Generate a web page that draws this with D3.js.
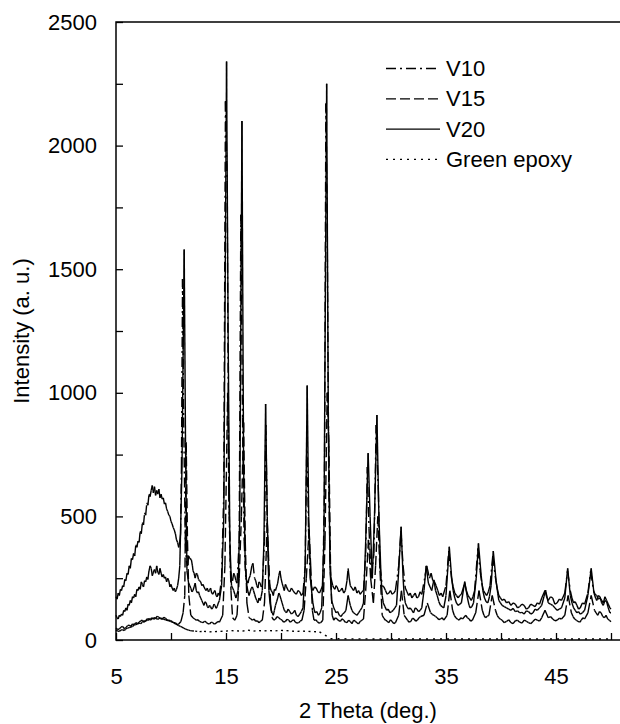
<!DOCTYPE html>
<html>
<head>
<meta charset="utf-8">
<script src="https://cdn.jsdelivr.net/npm/d3@7"></script>
<style>
body { margin: 0; background: #fff; }
text { font-family: "Liberation Sans", Arial, sans-serif; font-size: 22px; fill: #000; }
</style>
</head>
<body>
<div id="chart"></div>
<script>
// values, [2 theta, intensity]
var v10 = [[5.0,175],[5.1,165],[5.2,190],[5.3,180],[5.4,205],[5.5,200],[5.6,220],[5.7,215],[5.8,245],[5.9,240],[6.0,270],[6.1,265],[6.2,300],[6.3,290],[6.4,330],[6.5,325],[6.6,350],[6.7,340],[6.8,385],[6.9,375],[7.0,400],[7.1,395],[7.2,440],[7.3,430],[7.4,475],[7.5,465],[7.6,515],[7.7,505],[7.8,555],[7.9,545],[8.0,590],[8.1,580],[8.2,605],[8.3,625],[8.4,595],[8.5,620],[8.6,585],[8.7,605],[8.8,590],[8.9,610],[9.0,575],[9.1,590],[9.2,570],[9.3,575],[9.4,550],[9.5,555],[9.6,530],[9.7,520],[9.8,505],[9.9,500],[10.0,480],[10.1,470],[10.2,455],[10.3,445],[10.4,430],[10.5,405],[10.6,395],[10.7,375],[10.8,400],[10.87,430],[10.95,700],[11.05,1460],[11.15,900],[11.3,400],[11.4,320],[11.5,300],[11.6,340],[11.7,330],[11.85,325],[11.95,300],[12.0,280],[12.1,270],[12.2,250],[12.3,270],[12.4,265],[12.5,245],[12.6,240],[12.7,235],[12.8,220],[12.9,225],[13.0,215],[13.1,205],[13.2,200],[13.3,210],[13.4,195],[13.5,200],[13.6,210],[13.7,190],[13.8,185],[13.9,195],[14.0,200],[14.1,180],[14.2,175],[14.3,190],[14.4,180],[14.6,250],[14.8,600],[14.95,2180],[15.1,1850],[15.25,600],[15.4,280],[15.5,250],[15.6,240],[15.7,270],[15.8,260],[15.9,240],[16.0,230],[16.2,400],[16.35,1720],[16.5,900],[16.65,400],[16.8,250],[16.9,240],[17.0,230],[17.1,250],[17.2,260],[17.35,300],[17.45,310],[17.6,250],[17.7,240],[17.8,220],[17.9,210],[18.0,235],[18.1,230],[18.2,215],[18.3,220],[18.5,400],[18.62,870],[18.75,480],[18.9,240],[19.0,215],[19.1,200],[19.2,195],[19.3,180],[19.4,205],[19.5,200],[19.6,215],[19.7,230],[19.8,260],[19.9,280],[20.0,250],[20.1,230],[20.2,215],[20.3,200],[20.4,225],[20.5,215],[20.65,200],[20.8,195],[20.95,210],[21.1,200],[21.25,190],[21.4,185],[21.55,200],[21.7,195],[21.85,180],[22.0,190],[22.2,300],[22.35,820],[22.5,450],[22.65,250],[22.8,210],[22.9,200],[23.05,215],[23.2,210],[23.35,195],[23.5,190],[23.65,205],[23.8,220],[23.95,600],[24.08,2170],[24.2,1650],[24.35,600],[24.5,260],[24.7,220],[24.8,210],[24.9,205],[25.0,220],[25.1,215],[25.25,195],[25.4,200],[25.55,210],[25.7,190],[25.85,200],[26.0,240],[26.1,290],[26.2,250],[26.3,220],[26.45,210],[26.6,200],[26.75,215],[26.9,190],[27.05,200],[27.2,185],[27.35,195],[27.5,200],[27.7,350],[27.85,700],[28.0,450],[28.2,250],[28.45,350],[28.65,870],[28.85,600],[29.0,300],[29.2,220],[29.35,215],[29.5,200],[29.65,185],[29.8,190],[29.95,200],[30.1,185],[30.25,190],[30.4,200],[30.7,300],[30.9,440],[31.1,300],[31.3,210],[31.45,195],[31.6,180],[31.75,190],[31.9,170],[32.05,180],[32.2,190],[32.35,170],[32.5,175],[32.65,195],[32.8,185],[33.1,260],[33.25,300],[33.5,250],[33.65,270],[33.8,240],[33.95,235],[34.1,220],[34.25,200],[34.4,180],[34.55,190],[34.7,175],[35.0,220],[35.25,360],[35.5,250],[35.65,215],[35.8,190],[35.95,180],[36.1,170],[36.25,180],[36.4,185],[36.7,230],[36.85,200],[37.0,180],[37.15,170],[37.3,160],[37.45,175],[37.6,200],[37.9,370],[38.1,280],[38.25,230],[38.4,200],[38.55,190],[38.7,180],[38.85,195],[39.0,220],[39.25,340],[39.5,250],[39.65,210],[39.8,180],[39.95,170],[40.1,160],[40.3,165],[40.5,150],[40.7,155],[40.9,140],[41.1,150],[41.3,145],[41.5,130],[41.7,135],[41.9,145],[42.1,140],[42.3,125],[42.5,130],[42.7,145],[42.9,140],[43.1,135],[43.3,150],[43.5,145],[43.7,170],[44.0,200],[44.15,175],[44.3,160],[44.5,175],[44.7,170],[44.9,145],[45.1,150],[45.3,165],[45.5,160],[45.8,190],[46.05,280],[46.3,200],[46.45,170],[46.6,150],[46.75,155],[46.9,140],[47.05,125],[47.2,130],[47.4,150],[47.6,145],[47.9,190],[48.15,280],[48.4,200],[48.55,185],[48.7,180],[48.85,165],[49.0,170],[49.15,160],[49.3,150],[49.45,175],[49.6,160],[49.75,145],[49.9,130],[50.0,125]];

var v15 = [[5.0,48],[5.15,42],[5.3,45],[5.45,52],[5.6,55],[5.75,46],[5.9,50],[6.05,58],[6.2,60],[6.35,55],[6.5,65],[6.65,62],[6.8,70],[6.95,66],[7.1,72],[7.25,78],[7.4,80],[7.55,72],[7.7,78],[7.85,86],[8.0,85],[8.15,80],[8.3,90],[8.45,84],[8.6,88],[8.75,96],[8.9,92],[9.05,86],[9.2,85],[9.35,92],[9.5,88],[9.65,80],[9.8,80],[9.95,78],[10.1,75],[10.25,70],[10.4,70],[10.55,62],[10.7,65],[10.9,75],[11.1,110],[11.25,180],[11.38,800],[11.5,400],[11.62,180],[11.8,100],[12.0,90],[12.15,85],[12.3,80],[12.45,82],[12.6,75],[12.75,72],[12.9,70],[13.05,76],[13.2,72],[13.35,66],[13.5,65],[13.65,72],[13.8,70],[13.95,64],[14.1,68],[14.25,75],[14.4,72],[14.7,100],[14.9,300],[15.15,1000],[15.3,500],[15.45,200],[15.6,90],[15.8,80],[16.0,100],[16.2,250],[16.4,500],[16.6,880],[16.75,400],[16.9,150],[17.1,90],[17.25,86],[17.4,80],[17.55,85],[17.7,75],[17.85,78],[18.0,70],[18.15,76],[18.3,80],[18.5,150],[18.75,473],[18.9,300],[19.05,150],[19.2,90],[19.35,80],[19.5,85],[19.65,95],[19.8,90],[19.95,84],[20.1,80],[20.25,72],[20.4,75],[20.55,84],[20.7,80],[20.85,72],[21.0,78],[21.15,82],[21.3,72],[21.45,68],[21.6,70],[21.75,76],[21.9,80],[22.1,120],[22.3,250],[22.55,445],[22.7,300],[22.85,120],[23.0,80],[23.15,82],[23.3,75],[23.45,68],[23.6,70],[23.8,80],[24.0,400],[24.2,1000],[24.35,800],[24.5,300],[24.65,100],[24.8,80],[24.95,90],[25.1,85],[25.25,78],[25.4,75],[25.55,86],[25.7,80],[25.85,72],[26.0,70],[26.15,80],[26.3,75],[26.45,66],[26.6,80],[26.75,76],[26.9,70],[27.05,65],[27.2,75],[27.35,80],[27.5,85],[27.7,200],[27.95,405],[28.15,250],[28.4,150],[28.6,300],[28.8,500],[29.0,280],[29.2,100],[29.35,88],[29.5,80],[29.65,76],[29.8,70],[29.95,82],[30.1,75],[30.25,66],[30.4,70],[30.7,100],[30.95,200],[31.2,100],[31.35,90],[31.5,80],[31.65,72],[31.8,75],[31.95,88],[32.1,85],[32.25,76],[32.4,80],[32.55,90],[32.7,95],[33.0,100],[33.3,150],[33.6,110],[33.75,104],[33.9,100],[34.05,95],[34.2,90],[34.35,82],[34.5,85],[34.65,90],[34.8,80],[35.1,100],[35.35,200],[35.6,120],[35.75,100],[35.9,90],[36.05,84],[36.2,80],[36.35,90],[36.5,85],[36.8,100],[36.95,90],[37.1,85],[37.25,76],[37.4,80],[37.7,110],[38.0,200],[38.3,120],[38.45,100],[38.6,90],[38.75,96],[38.9,100],[39.2,180],[39.5,120],[39.65,100],[39.8,90],[39.95,84],[40.1,80],[40.3,70],[40.5,75],[40.7,82],[40.9,70],[41.1,66],[41.3,78],[41.5,80],[41.7,72],[41.9,68],[42.1,80],[42.3,76],[42.5,70],[42.7,66],[42.9,75],[43.1,84],[43.3,80],[43.5,76],[43.7,90],[44.0,120],[44.3,90],[44.5,95],[44.7,85],[44.9,78],[45.1,80],[45.3,88],[45.5,85],[45.8,100],[46.1,180],[46.4,110],[46.55,95],[46.7,85],[46.85,80],[47.0,75],[47.15,72],[47.3,80],[47.45,90],[47.6,85],[47.9,110],[48.2,180],[48.5,120],[48.65,110],[48.8,100],[48.95,115],[49.1,110],[49.25,95],[49.4,90],[49.55,100],[49.7,85],[49.85,80],[50.0,74]];

var v20 = [[5.0,100],[5.1,90],[5.2,85],[5.3,100],[5.4,95],[5.5,105],[5.6,100],[5.7,120],[5.8,115],[5.9,130],[6.0,120],[6.1,145],[6.2,140],[6.3,160],[6.4,150],[6.5,175],[6.6,170],[6.7,185],[6.8,175],[6.9,205],[7.0,200],[7.1,215],[7.2,205],[7.3,235],[7.4,225],[7.5,215],[7.6,240],[7.7,235],[7.8,255],[7.9,245],[8.0,280],[8.1,300],[8.2,290],[8.3,260],[8.4,275],[8.5,285],[8.6,270],[8.7,300],[8.8,275],[8.9,265],[9.0,290],[9.1,270],[9.2,255],[9.3,265],[9.4,250],[9.5,255],[9.6,235],[9.7,250],[9.8,240],[9.9,215],[10.0,225],[10.1,210],[10.2,200],[10.3,210],[10.4,195],[10.5,205],[10.6,220],[10.7,250],[10.8,300],[11.0,700],[11.2,1580],[11.32,800],[11.45,280],[11.6,230],[11.7,220],[11.8,210],[11.9,195],[12.0,200],[12.1,215],[12.2,230],[12.3,200],[12.4,190],[12.5,195],[12.6,180],[12.7,170],[12.8,160],[12.9,150],[13.0,140],[13.1,155],[13.2,150],[13.3,135],[13.4,130],[13.5,140],[13.6,135],[13.7,125],[13.8,130],[13.9,145],[14.0,140],[14.1,128],[14.2,135],[14.3,150],[14.4,160],[14.6,220],[14.8,500],[15.05,2340],[15.2,1200],[15.35,400],[15.5,220],[15.6,210],[15.7,200],[15.8,185],[15.9,170],[16.0,185],[16.1,200],[16.25,500],[16.45,2100],[16.6,700],[16.75,300],[16.9,220],[17.0,195],[17.1,180],[17.2,195],[17.3,210],[17.4,215],[17.5,200],[17.6,185],[17.7,170],[17.8,160],[17.9,150],[18.0,170],[18.1,160],[18.2,175],[18.3,200],[18.45,400],[18.6,955],[18.75,500],[18.9,200],[19.0,150],[19.1,120],[19.2,110],[19.3,100],[19.4,120],[19.5,140],[19.6,155],[19.7,170],[19.8,190],[19.9,180],[20.0,165],[20.1,150],[20.2,135],[20.3,120],[20.4,115],[20.5,110],[20.65,125],[20.8,115],[20.95,105],[21.1,110],[21.25,120],[21.4,100],[21.55,95],[21.7,105],[21.85,115],[22.0,130],[22.2,300],[22.38,1030],[22.52,500],[22.7,250],[22.8,190],[22.9,150],[23.0,125],[23.1,110],[23.25,115],[23.4,100],[23.55,110],[23.7,130],[23.9,400],[24.15,2250],[24.3,900],[24.45,300],[24.6,160],[24.7,145],[24.8,130],[24.9,120],[25.0,110],[25.15,115],[25.3,100],[25.45,95],[25.6,105],[25.75,110],[25.9,120],[26.1,180],[26.2,160],[26.3,140],[26.45,120],[26.6,110],[26.75,105],[26.9,100],[27.05,110],[27.2,120],[27.35,130],[27.5,150],[27.7,400],[27.92,756],[28.1,500],[28.3,250],[28.5,500],[28.72,910],[28.9,500],[29.1,250],[29.2,180],[29.3,150],[29.45,135],[29.6,120],[29.75,125],[29.9,110],[30.05,115],[30.2,120],[30.35,130],[30.5,140],[30.7,280],[30.92,458],[31.1,250],[31.2,180],[31.3,150],[31.45,135],[31.6,125],[31.75,130],[31.9,120],[32.05,110],[32.2,130],[32.35,125],[32.5,115],[32.65,120],[32.8,130],[33.0,200],[33.2,300],[33.4,230],[33.55,215],[33.7,200],[33.9,243],[34.05,200],[34.2,180],[34.35,155],[34.5,140],[34.65,135],[34.8,130],[35.0,180],[35.3,377],[35.5,260],[35.65,200],[35.8,170],[35.95,150],[36.1,140],[36.25,145],[36.4,150],[36.7,236],[36.95,170],[37.1,140],[37.2,130],[37.35,135],[37.5,150],[37.75,250],[37.95,391],[38.2,260],[38.35,200],[38.5,170],[38.65,155],[38.8,150],[38.95,175],[39.1,220],[39.3,360],[39.55,240],[39.7,190],[39.8,160],[39.95,150],[40.1,140],[40.3,135],[40.5,130],[40.7,125],[40.9,120],[41.1,128],[41.3,115],[41.5,118],[41.7,110],[41.9,112],[42.1,105],[42.3,118],[42.5,115],[42.7,105],[42.9,110],[43.1,125],[43.3,120],[43.5,130],[43.7,140],[43.9,175],[44.05,202],[44.2,170],[44.3,150],[44.5,145],[44.7,140],[44.9,130],[45.1,120],[45.3,125],[45.5,130],[45.8,170],[46.06,290],[46.3,180],[46.45,150],[46.6,130],[46.75,120],[46.9,110],[47.05,115],[47.2,105],[47.4,110],[47.6,120],[47.9,180],[48.2,290],[48.45,190],[48.6,170],[48.7,160],[48.85,180],[49.0,175],[49.15,150],[49.3,140],[49.45,160],[49.6,155],[49.75,130],[49.9,110],[50.0,110]];

var greenEpoxy = [[5.0,40],[5.15,36],[5.3,35],[5.45,40],[5.6,42],[5.75,38],[5.9,45],[6.05,48],[6.2,50],[6.35,52],[6.5,55],[6.65,60],[6.8,62],[6.95,64],[7.1,68],[7.25,66],[7.4,72],[7.55,76],[7.7,78],[7.85,80],[8.0,82],[8.15,88],[8.3,85],[8.45,90],[8.6,88],[8.75,84],[8.9,86],[9.05,90],[9.2,85],[9.35,84],[9.5,82],[9.65,80],[9.8,78],[9.95,75],[10.1,72],[10.25,70],[10.4,65],[10.55,62],[10.7,58],[10.85,55],[11.0,52],[11.15,48],[11.3,45],[11.45,42],[11.6,40],[11.75,38],[11.9,37],[12.2,36],[12.6,34],[13.0,35],[13.5,33],[14.0,34],[14.5,35],[15.0,36],[15.5,38],[16.0,37],[16.5,36],[17.0,40],[17.5,36],[18.0,38],[18.5,37],[19.0,38],[19.5,37],[20.0,39],[20.5,38],[21.0,36],[21.5,35],[22.0,36],[22.5,35],[23.0,34],[23.5,33],[24.0,20],[24.5,5],[30.0,4],[40.0,4],[50.0,4]];

var seriesNames = ["V10", "V15", "V20", "Green epoxy"];
var seriesData = [v10, v15, v20, greenEpoxy];
var seriesDash = ["10,4,2,4", "10,4", null, "2,5"];

var xTicks = [5, 10, 15, 20, 25, 30, 35, 40, 45, 50];
var xTickLabels = [5, 15, 25, 35, 45];
var yTicks = [0, 250, 500, 750, 1000, 1250, 1500, 1750, 2000, 2250, 2500];
var yTickLabels = [0, 500, 1000, 1500, 2000, 2500];

var width = 620, height = 724;
var plotLeft = 116, plotRight = 620, plotTop = 22, plotBottom = 640;

var svg = d3.select("#chart").append("svg")
    .attr("width", width)
    .attr("height", height);

var x = d3.scaleLinear().domain([5, 50]).range([116, 611]);
var y = d3.scaleLinear().domain([0, 2500]).range([plotBottom, plotTop]);

// frame
svg.append("path")
    .attr("d", "M" + plotRight + "," + plotTop + "H" + plotLeft + "V" + plotBottom + "H" + plotRight)
    .attr("fill", "none")
    .attr("stroke", "#000")
    .attr("stroke-width", 1.5);

// x axis, ticks pointing inward
var xAxis = svg.append("g")
    .attr("transform", "translate(0," + plotBottom + ")")
    .call(d3.axisBottom(x)
        .tickValues(xTicks)
        .tickSizeInner(-7)
        .tickSizeOuter(0)
        .tickPadding(28)
        .tickFormat(function(d) { return xTickLabels.indexOf(d) >= 0 ? d : ""; }));
xAxis.select(".domain").remove();
xAxis.selectAll("line").attr("stroke", "#000").attr("stroke-width", 1.3);
xAxis.selectAll("text").attr("font-size", null).attr("font-family", null);

var yAxis = svg.append("g")
    .attr("transform", "translate(" + plotLeft + ",0)")
    .call(d3.axisLeft(y)
        .tickValues(yTicks)
        .tickSizeInner(-7)
        .tickSizeOuter(0)
        .tickPadding(19)
        .tickFormat(function(d) { return yTickLabels.indexOf(d) >= 0 ? d : ""; }));
yAxis.select(".domain").remove();
yAxis.selectAll("line").attr("stroke", "#000").attr("stroke-width", 1.3);
yAxis.selectAll("text").attr("font-size", null).attr("font-family", null);

// axis titles
svg.append("text")
    .attr("x", 368)
    .attr("y", 718)
    .attr("text-anchor", "middle")
    .text("2 Theta (deg.)");

svg.append("text")
    .attr("transform", "translate(29," + ((plotTop + plotBottom) / 2) + ") rotate(-90)")
    .attr("text-anchor", "middle")
    .text("Intensity (a. u.)");

// curves - each segment drawn on its own so the dash pattern restarts, like the original export
var drawOrder = [3, 1, 0, 2];
drawOrder.forEach(function(i) {
  svg.append("g")
    .selectAll("line")
    .data(d3.pairs(seriesData[i]))
    .enter()
    .append("line")
      .attr("x1", function(d) { return x(d[0][0]); })
      .attr("y1", function(d) { return y(d[0][1]); })
      .attr("x2", function(d) { return x(d[1][0]); })
      .attr("y2", function(d) { return y(d[1][1]); })
      .attr("stroke", "#000")
      .attr("stroke-width", 1.4)
      .attr("stroke-dasharray", seriesDash[i]);
});

// legend
var legend = svg.append("g")
  .selectAll("g")
  .data(seriesNames)
  .enter()
  .append("g")
    .attr("transform", function(d, i) { return "translate(0," + (76 + i * 30.3) + ")"; });

legend.append("line")
    .attr("x1", 386)
    .attr("x2", 440)
    .attr("y1", -7.5)
    .attr("y2", -7.5)
    .attr("stroke", "#000")
    .attr("stroke-width", 1.3)
    .attr("stroke-dasharray", function(d, i) { return seriesDash[i]; });

legend.append("text")
    .attr("x", 446)
    .text(function(d) { return d; });
</script>
</body>
</html>
